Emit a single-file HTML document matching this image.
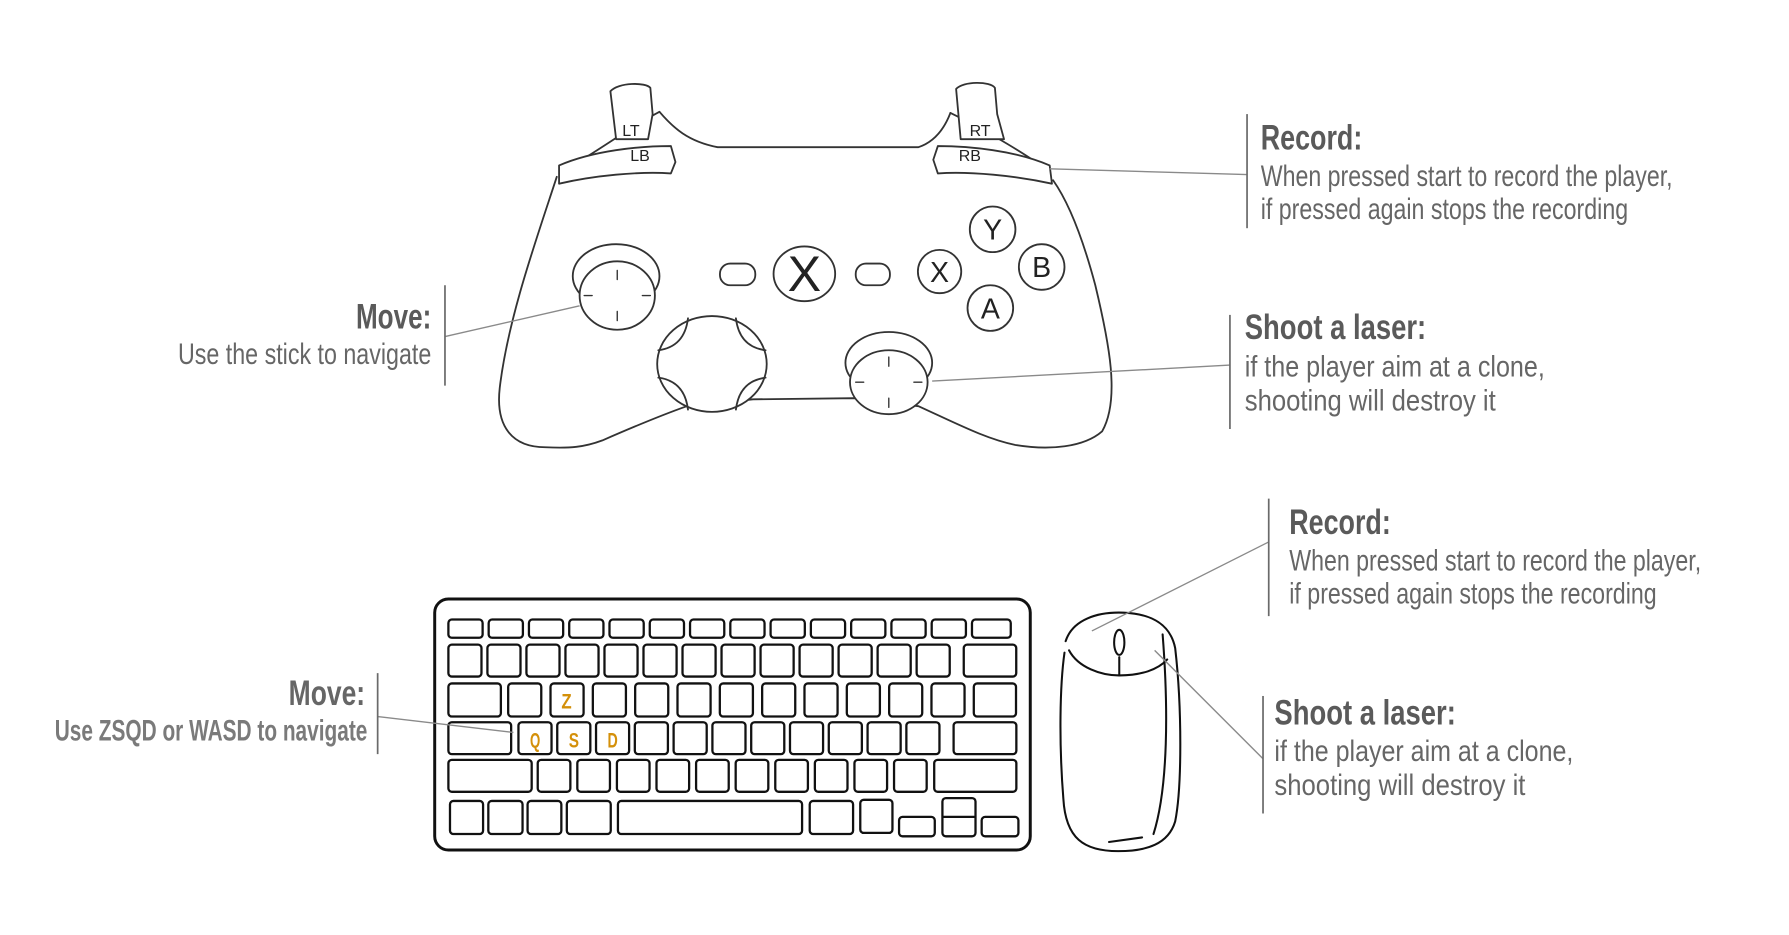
<!DOCTYPE html>
<html><head><meta charset="utf-8"><style>
html,body{margin:0;padding:0;background:#fff;}
svg{display:block;}
text{font-family:"Liberation Sans",sans-serif;}
</style></head><body>
<svg width="1789" height="935" viewBox="0 0 1568 819.5" xmlns="http://www.w3.org/2000/svg">
<rect width="1568" height="819.5" fill="#fff"/>
<!-- Controller -->
<g fill="none" stroke="#333" stroke-width="1.6" stroke-linecap="round" stroke-linejoin="round">
<path d="M488 155 C470 210,445 280,438 340 C434 375,450 392,478 392 C500 393,512 392,528 386 C560 372,585 362,602 356 L660 350 L748 349 L805 356 C840 372,865 385,890 390 C920 395,950 392,966 378 C982 350,972 300,960 250 C948 205,935 175,923 158"/>
<path d="M578 98 C590 112,603 124,629 129 L805 129 C820 124,828 112,833 99"/>
<path d="M578 98 C555 110,530 128,510 140"/>
<path d="M833 99 C860 112,890 130,905 140"/>
<path d="M490 145 C520 132,560 128,588 128 L592 142 L588 152 C560 150,520 154,490 161 Z" fill="#fff"/>
<path d="M920 145 C890 132,850 128,822 128 L818 140 L822 152 C850 150,890 154,922 161 Z" fill="#fff"/>
<path d="M540 122 L535 80 C542 72,566 72,570 77 L572 100 L568 122 Z" fill="#fff"/>
<path d="M842 122 L838 78 C844 71,868 71,872 77 L874 100 L880 122 Z" fill="#fff"/>
<ellipse cx="540" cy="242" rx="38" ry="28" fill="#fff"/>
<ellipse cx="541" cy="259" rx="33" ry="30" fill="#fff"/>
<path d="M541 237v8M541 273v8M512 259h7M563 259h7" stroke-width="1.2"/>
<ellipse cx="624" cy="319" rx="48" ry="42" fill="#fff"/>
<path d="M603 279 Q600 304 577 307 M645 279 Q648 304 671 307 M603 359 Q600 334 577 331 M645 359 Q648 334 671 331"/>
<ellipse cx="779" cy="318" rx="38" ry="27" fill="#fff"/>
<ellipse cx="779" cy="335" rx="34" ry="28" fill="#fff"/>
<path d="M779 313v8M779 349v8M750 335h7M801 335h7" stroke-width="1.2"/>
<rect x="631" y="231" width="31" height="19" rx="9"/>
<rect x="750" y="231" width="30" height="19" rx="9"/>
<ellipse cx="705" cy="240" rx="27" ry="24"/>
<circle cx="823.5" cy="238" r="19"/>
<circle cx="870" cy="201" r="20"/>
<circle cx="913" cy="234" r="20"/>
<circle cx="868" cy="270" r="20"/>
</g>
<g fill="#222" text-anchor="middle">
<text x="705" y="255" font-size="44">X</text>
<text x="823.5" y="247" font-size="25">X</text>
<text x="870" y="210" font-size="25">Y</text>
<text x="913" y="243" font-size="25">B</text>
<text x="868" y="279" font-size="25">A</text>
<text x="553" y="119" font-size="14">LT</text>
<text x="859" y="119" font-size="14">RT</text>
<text x="561" y="141" font-size="14">LB</text>
<text x="850" y="141" font-size="14">RB</text>
</g>
<!-- Keyboard -->
<g fill="#fff" stroke="#111" stroke-width="2">
<rect x="381" y="525" width="522" height="220" rx="12" stroke-width="2.6"/>
<rect x="393" y="543" width="30" height="16" rx="3"/><rect x="428.3" y="543" width="30" height="16" rx="3"/><rect x="463.6" y="543" width="30" height="16" rx="3"/><rect x="498.9" y="543" width="30" height="16" rx="3"/><rect x="534.2" y="543" width="30" height="16" rx="3"/><rect x="569.5" y="543" width="30" height="16" rx="3"/><rect x="604.8" y="543" width="30" height="16" rx="3"/><rect x="640.1" y="543" width="30" height="16" rx="3"/><rect x="675.4" y="543" width="30" height="16" rx="3"/><rect x="710.7" y="543" width="30" height="16" rx="3"/><rect x="746" y="543" width="30" height="16" rx="3"/><rect x="781.3" y="543" width="30" height="16" rx="3"/><rect x="816.6" y="543" width="30" height="16" rx="3"/><rect x="851.9" y="543" width="34" height="16" rx="3"/>
<rect x="393" y="565" width="29" height="28" rx="3"/><rect x="427.2" y="565" width="29" height="28" rx="3"/><rect x="461.4" y="565" width="29" height="28" rx="3"/><rect x="495.6" y="565" width="29" height="28" rx="3"/><rect x="529.8" y="565" width="29" height="28" rx="3"/><rect x="564" y="565" width="29" height="28" rx="3"/><rect x="598.2" y="565" width="29" height="28" rx="3"/><rect x="632.4" y="565" width="29" height="28" rx="3"/><rect x="666.6" y="565" width="29" height="28" rx="3"/><rect x="700.8" y="565" width="29" height="28" rx="3"/><rect x="735" y="565" width="29" height="28" rx="3"/><rect x="769.2" y="565" width="29" height="28" rx="3"/><rect x="803.4" y="565" width="29" height="28" rx="3"/><rect x="844.7" y="565" width="46" height="28" rx="3"/>
<rect x="393" y="599" width="46" height="29" rx="3"/><rect x="445.4" y="599" width="29" height="29" rx="3"/><rect x="482.5" y="599" width="29" height="29" rx="3"/><rect x="519.6" y="599" width="29" height="29" rx="3"/><rect x="556.7" y="599" width="29" height="29" rx="3"/><rect x="593.8" y="599" width="29" height="29" rx="3"/><rect x="630.9" y="599" width="29" height="29" rx="3"/><rect x="668" y="599" width="29" height="29" rx="3"/><rect x="705.1" y="599" width="29" height="29" rx="3"/><rect x="742.2" y="599" width="29" height="29" rx="3"/><rect x="779.3" y="599" width="29" height="29" rx="3"/><rect x="816.4" y="599" width="29" height="29" rx="3"/><rect x="853.5" y="599" width="37" height="29" rx="3"/>
<rect x="393" y="633" width="55" height="28" rx="3"/><rect x="454.4" y="633" width="29" height="28" rx="3"/><rect x="488.4" y="633" width="29" height="28" rx="3"/><rect x="522.4" y="633" width="29" height="28" rx="3"/><rect x="556.4" y="633" width="29" height="28" rx="3"/><rect x="590.4" y="633" width="29" height="28" rx="3"/><rect x="624.4" y="633" width="29" height="28" rx="3"/><rect x="658.4" y="633" width="29" height="28" rx="3"/><rect x="692.4" y="633" width="29" height="28" rx="3"/><rect x="726.4" y="633" width="29" height="28" rx="3"/><rect x="760.4" y="633" width="29" height="28" rx="3"/><rect x="794.4" y="633" width="29" height="28" rx="3"/><rect x="835.8" y="633" width="55" height="28" rx="3"/>
<rect x="393" y="666" width="73" height="28" rx="3"/><rect x="471.3" y="666" width="28.6" height="28" rx="3"/><rect x="506" y="666" width="28.6" height="28" rx="3"/><rect x="540.7" y="666" width="28.6" height="28" rx="3"/><rect x="575.4" y="666" width="28.6" height="28" rx="3"/><rect x="610.1" y="666" width="28.6" height="28" rx="3"/><rect x="644.8" y="666" width="28.6" height="28" rx="3"/><rect x="679.5" y="666" width="28.6" height="28" rx="3"/><rect x="714.2" y="666" width="28.6" height="28" rx="3"/><rect x="748.9" y="666" width="28.6" height="28" rx="3"/><rect x="783.6" y="666" width="28.6" height="28" rx="3"/><rect x="818.8" y="666" width="72" height="28" rx="3"/>
<rect x="394.4" y="702" width="29" height="29" rx="3"/><rect x="428" y="702" width="30" height="29" rx="3"/><rect x="462.4" y="702" width="29.6" height="29" rx="3"/><rect x="496.8" y="702" width="38.5" height="29" rx="3"/><rect x="541.6" y="702" width="161.4" height="29" rx="3"/><rect x="709.7" y="702" width="38" height="29" rx="3"/><rect x="754" y="701" width="28.2" height="29" rx="3"/><rect x="788" y="716" width="31.3" height="17" rx="3"/><rect x="826" y="699.5" width="29" height="33.5" rx="3"/><line x1="826" y1="716" x2="855" y2="716"/><rect x="860.4" y="716" width="32.2" height="17" rx="3"/>
</g>
<g fill="#d4900a" font-weight="bold" text-anchor="middle" font-size="19">
<text x="496.5" y="621" textLength="9" lengthAdjust="spacingAndGlyphs">Z</text>
<text x="469" y="655" textLength="9" lengthAdjust="spacingAndGlyphs">Q</text>
<text x="503" y="655" textLength="9" lengthAdjust="spacingAndGlyphs">S</text>
<text x="537" y="655" textLength="9" lengthAdjust="spacingAndGlyphs">D</text>
</g>
<!-- Mouse -->
<g fill="none" stroke="#111" stroke-width="1.8" stroke-linecap="round">
<path d="M934 562 C940 543,962 536,985 537 C1010 538,1026 548,1030 568 C1036 620,1036 690,1030 720 C1024 740,1005 746,980 746 C950 746,934 735,932 700 C928 650,929 600,933 572"/>
<path d="M937 570 C945 585,965 592,981 592 C1000 592,1015 587,1023 578"/>
<ellipse cx="981" cy="563" rx="4.5" ry="11"/>
<line x1="981" y1="576" x2="981" y2="592"/>
<path d="M1019 556 C1024 620,1024 690,1011 731"/>
<path d="M972 738 L1001 734"/>
</g>
<!-- callout lines -->
<g stroke="#8a8a8a" stroke-width="1.2" fill="none">
<line x1="508" y1="268" x2="390" y2="295"/>
<line x1="920" y1="148" x2="1093" y2="153"/>
<line x1="817" y1="334" x2="1078" y2="320"/>
<line x1="331" y1="628" x2="450" y2="642"/>
<line x1="957" y1="553" x2="1112" y2="475"/>
<line x1="1012" y1="570" x2="1107" y2="665"/>
</g>
<g stroke="#6a6a6a" stroke-width="1.5">
<line x1="390" y1="250" x2="390" y2="338"/>
<line x1="1093" y1="100" x2="1093" y2="200"/>
<line x1="1078" y1="276" x2="1078" y2="376"/>
<line x1="331" y1="590" x2="331" y2="661"/>
<line x1="1112" y1="437" x2="1112" y2="540"/>
<line x1="1107" y1="610" x2="1107" y2="713"/>
</g>
<!-- texts -->
<g fill="#5a5a5a" font-weight="bold" font-size="31">
<text x="1105" y="131" textLength="89" lengthAdjust="spacingAndGlyphs">Record:</text>
<text x="312" y="288" textLength="66" lengthAdjust="spacingAndGlyphs">Move:</text>
<text x="1091" y="297" textLength="159" lengthAdjust="spacingAndGlyphs">Shoot a laser:</text>
<text x="1130" y="468" textLength="89" lengthAdjust="spacingAndGlyphs">Record:</text>
<text x="1117" y="635" textLength="159" lengthAdjust="spacingAndGlyphs">Shoot a laser:</text>
<text x="253" y="618" textLength="67" lengthAdjust="spacingAndGlyphs" fill="#666">Move:</text>
</g>
<g fill="#666" font-size="26">
<text x="1105" y="163" textLength="361" lengthAdjust="spacingAndGlyphs">When pressed start to record the player,</text>
<text x="1105" y="192" textLength="322" lengthAdjust="spacingAndGlyphs">if pressed again stops the recording</text>
<text x="156" y="319" textLength="222" lengthAdjust="spacingAndGlyphs">Use the stick to navigate</text>
<text x="1091" y="330" textLength="263" lengthAdjust="spacingAndGlyphs">if the player aim at a clone,</text>
<text x="1091" y="360" textLength="220" lengthAdjust="spacingAndGlyphs">shooting will destroy it</text>
<text x="1130" y="500" textLength="361" lengthAdjust="spacingAndGlyphs">When pressed start to record the player,</text>
<text x="1130" y="529" textLength="322" lengthAdjust="spacingAndGlyphs">if pressed again stops the recording</text>
<text x="1117" y="667" textLength="262" lengthAdjust="spacingAndGlyphs">if the player aim at a clone,</text>
<text x="1117" y="697" textLength="220" lengthAdjust="spacingAndGlyphs">shooting will destroy it</text>
<text x="48" y="649" textLength="274" lengthAdjust="spacingAndGlyphs" fill="#7a7a7a" font-weight="bold">Use ZSQD or WASD to navigate</text>
</g>
</svg>
</body></html>
